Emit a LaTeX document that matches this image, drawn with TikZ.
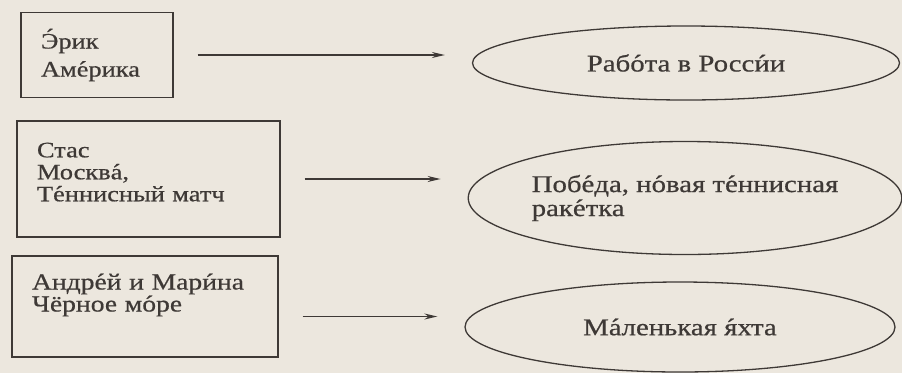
\documentclass[tikz,border=0pt]{standalone}
\usepackage{fontspec}
\setmainfont[FakeStretch=1.2, FakeBold=0.6]{Liberation Serif}
\usepackage{tikz}
\usetikzlibrary{arrows.meta}
\usetikzlibrary{positioning, shapes.geometric}
\definecolor{paper}{RGB}{236,231,222}
\definecolor{ink}{RGB}{62,57,54}
\newcommand\ud[2][0pt]{\leavevmode\setbox0\hbox{#2}\rlap{\hbox to\wd0{\hss\raisebox{#1}{\char"00B4}\hss}}\box0}

\begin{document}
\begin{tikzpicture}[x=1pt, y=-1pt, line width=1.3pt]
\path[use as bounding box, fill=paper] (0,0) rectangle (902,373);

\begin{scope}[every node/.style={draw=ink, text=ink, rectangle, inner xsep=20pt, inner ysep=0pt,
              align=left, font=\fontsize{22}{22}\selectfont}]
    \node[text width=112pt, minimum height=85pt] (eric) at (97,55) {\ud[0.2em]{Э}рик\\[6pt] Ам\ud{е}рика};
    \node[text width=223pt, minimum height=116pt, text depth=58pt] (stas) at (148.5,179) {Стас\\ Москв\ud{а},\\ Т\ud{е}ннисный матч};
    \node[text width=226pt, minimum height=101pt, text depth=50pt,
          font=\fontsize{23}{22}\selectfont] (andrei) at (145,306.5) {Андр\ud{е}й и Мар\ud{и}на\\ Чёрное м\ud{о}ре};
\end{scope}

\begin{scope}[every node/.style={draw=ink, text=ink, ellipse, inner sep=0pt,
              align=left, font=\fontsize{24}{24}\selectfont}]
    \node[minimum width=427pt, minimum height=74pt] (job) at (686,63) {Раб\ud{о}та в Росс\ud{и}и};
    \node[minimum width=430pt, minimum height=113pt] (win) at (685,198) {Поб\ud{е}да, н\ud{о}вая т\ud{е}ннисная\\ рак\ud{е}тка};
    \node[minimum width=430pt, minimum height=90pt] (yacht) at (680,327) {М\ud{а}ленькая \ud{я}хта};
\end{scope}

\begin{scope}[>={Stealth[ink, length=13pt, width=6pt]},
              every edge/.style={draw=ink, line width=1.5pt, shorten <=24pt, shorten >=27pt}]
    \path [->] (eric.east) edge (eric.east -| job.west);
    \path [->] (stas.east) edge (stas.east -| win.west);
    \path [->] ([yshift=-10pt]andrei.east) edge ([yshift=-10pt]andrei.east -| yacht.west);
\end{scope}

\end{tikzpicture}
\end{document}
